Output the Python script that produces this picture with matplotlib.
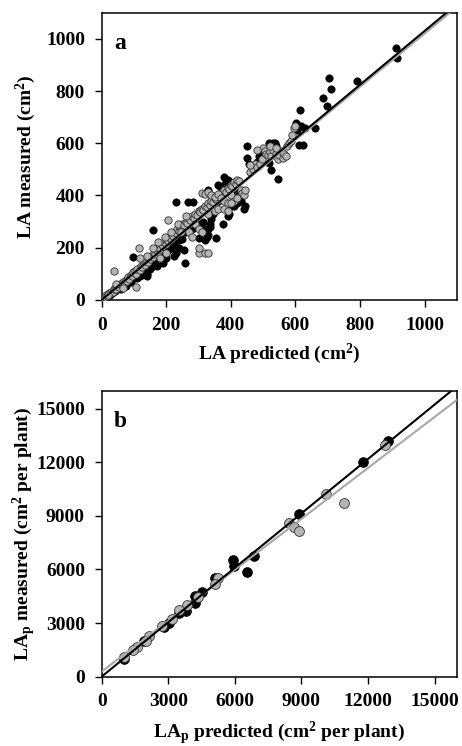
import numpy as np
import matplotlib
matplotlib.use('Agg')
import matplotlib.pyplot as plt

plt.rcParams['font.family'] = 'Liberation Serif'
plt.rcParams['font.weight'] = 'bold'
plt.rcParams['mathtext.fontset'] = 'custom'
plt.rcParams['mathtext.rm'] = 'Liberation Serif:bold'
plt.rcParams['mathtext.default'] = 'rm'

# ---- panel a: individual leaves (predicted, measured) ----
a_black = [
    (3, 2), (8, 6), (12, 10), (15, 14), (20, 16), (25, 20), (28, 25), (32, 28), (36, 30), (40, 33),
    (44, 38), (48, 40), (52, 45), (55, 48), (60, 52), (64, 55), (68, 60), (72, 62), (76, 68), (80, 70),
    (84, 75), (88, 78), (92, 82), (96, 85), (100, 90), (60, 40), (75, 55), (90, 70), (110, 85), (120, 95),
    (130, 100), (135, 110), (140, 90), (150, 120), (160, 130),
    (105, 100), (110, 115), (118, 120), (125, 110), (130, 130), (138, 125), (145, 140), (150, 150),
    (155, 145), (160, 160), (165, 150), (170, 175), (175, 160), (180, 185), (185, 170), (190, 195),
    (195, 180), (200, 205), (205, 190), (210, 215), (215, 200), (220, 225), (225, 210), (230, 240),
    (240, 230), (245, 250), (250, 235), (140, 100), (170, 130), (190, 140), (200, 160), (230, 180),
    (240, 200), (120, 90), (97, 166), (159, 269), (258, 141), (255, 190), (225, 170),
    (260, 260), (265, 280), (270, 300), (275, 290), (280, 270), (290, 300), (295, 320), (300, 290),
    (305, 330), (310, 280), (315, 300), (320, 260), (325, 240), (330, 270), (335, 290), (340, 310),
    (345, 330), (350, 350), (355, 370), (360, 380), (365, 390), (370, 400), (375, 420), (380, 440),
    (385, 460), (390, 450), (395, 430), (400, 420), (405, 410), (410, 390), (415, 380), (420, 370),
    (425, 400), (430, 380), (440, 350), (445, 360), (300, 237), (354, 237), (320, 230), (330, 250),
    (335, 280), (231, 375), (267, 375), (282, 375), (375, 290), (390, 320), (395, 330), (400, 360),
    (410, 360), (420, 430), (380, 470), (390, 460), (300, 340), (310, 350), (360, 440), (370, 430),
    (340, 400), (330, 420),
    (451, 588), (451, 543), (455, 520), (487, 550), (480, 530), (518, 525), (523, 499), (545, 464),
    (518, 599), (530, 600), (538, 599), (540, 590), (520, 580), (525, 560), (603, 678), (615, 729),
    (612, 595), (623, 592), (618, 665), (660, 659), (630, 660), (605, 650), (470, 510), (500, 560),
    (685, 775), (698, 744), (703, 850), (710, 808), (790, 839), (910, 963), (916, 927),
]
a_gray = [
    (5, 8), (10, 12), (15, 18), (18, 15), (22, 25), (26, 22), (30, 32), (35, 30), (38, 40), (42, 45),
    (46, 42), (50, 55), (54, 50), (58, 62), (62, 58), (66, 70), (70, 65), (74, 78), (78, 72), (82, 88),
    (86, 80), (90, 95), (94, 90), (98, 105), (38, 110), (105, 50), (20, 20), (45, 60), (65, 45),
    (102, 110), (106, 100), (110, 120), (115, 200), (118, 115), (122, 130), (126, 125), (130, 140),
    (134, 135), (138, 150), (142, 145), (146, 160), (150, 155), (154, 170), (158, 165), (162, 180),
    (166, 175), (170, 190), (174, 185), (178, 200), (182, 195), (186, 210), (190, 205), (194, 220),
    (198, 215), (202, 230), (206, 225), (210, 240), (214, 235), (218, 250), (222, 245), (226, 260),
    (230, 255), (234, 270), (238, 265), (242, 280), (246, 275), (250, 290), (205, 305), (180, 160),
    (200, 180), (120, 160), (140, 170), (160, 200), (175, 220), (195, 240), (215, 260), (235, 290),
    (245, 260),
    (255, 285), (260, 300), (265, 295), (270, 310), (275, 305), (280, 320), (285, 315), (290, 330),
    (295, 325), (300, 340), (305, 335), (310, 350), (315, 345), (320, 360), (325, 355), (330, 370),
    (335, 365), (340, 380), (345, 375), (350, 390), (355, 385), (360, 400), (365, 395), (370, 410),
    (375, 405), (380, 420), (385, 415), (390, 430), (395, 425), (400, 440), (405, 435), (410, 450),
    (415, 445), (420, 460), (425, 455), (430, 420), (435, 410), (440, 400), (445, 420), (300, 180),
    (320, 180), (330, 180), (310, 410), (320, 405), (330, 415), (340, 400), (350, 395), (360, 405),
    (370, 390), (380, 380), (390, 370), (400, 400), (410, 380), (420, 390), (290, 290), (300, 270),
    (310, 260), (260, 320), (270, 260), (280, 240), (330, 330), (350, 340), (360, 350), (380, 350),
    (390, 340), (400, 370), (300, 200),
    (460, 490), (470, 500), (475, 520), (480, 510), (490, 520), (495, 540), (500, 580), (505, 570),
    (510, 560), (515, 555), (520, 565), (525, 550), (530, 575), (540, 560), (545, 540), (550, 555),
    (555, 570), (560, 545), (565, 560), (570, 550), (575, 590), (580, 600), (585, 610), (590, 630),
    (595, 660), (598, 665), (480, 575), (520, 590), (540, 580), (460, 515),
]
# regression lines (slope, intercept)
a_fit_black = (1.03, 0)
a_fit_gray = (1.02, 0)

# ---- panel b: whole plants ----
b_black = [
    (1000, 1000), (12900, 13200), (11750, 12000), (8900, 9100), (5900, 6550), (5950, 6200),
    (6550, 5850), (6850, 6750), (5100, 5550), (4500, 4750), (4200, 4500), (4200, 4150),
    (3800, 3650), (3500, 3550), (3050, 3000), (2800, 2800), (1900, 2000),
]
b_gray = [
    (12750, 12950), (10100, 10250), (10900, 9750), (8450, 8600), (8650, 8400), (8900, 8150),
    (5250, 5500), (5100, 5200), (4350, 4450), (3850, 4000), (3500, 3750), (3150, 3250),
    (2700, 2850), (2150, 2250), (2000, 2000), (1600, 1650), (1400, 1500), (1000, 1100),
]
b_fit_black = (1.016, 0)
b_fit_gray = (0.951, 280)

fig = plt.figure(figsize=(4.62, 7.46), dpi=100)
ax1 = fig.add_axes([0.220, 0.598, 0.769, 0.385])
ax2 = fig.add_axes([0.220, 0.093, 0.769, 0.383])


def draw_panel(ax, black, gray, fit_k, fit_g, lim, ticks, size, letter):
    bx, by = zip(*black)
    gx, gy = zip(*gray)
    ax.scatter(bx, by, s=size, c='black', edgecolors='black', linewidths=0.5, zorder=2)
    ax.scatter(gx, gy, s=size, c='#b5b5b5', edgecolors='#303030', linewidths=0.6, zorder=3)
    xs = np.array([0, lim])
    ax.plot(xs, fit_g[0] * xs + fit_g[1], color='#a8a8a8', lw=1.5, zorder=4)
    ax.plot(xs, fit_k[0] * xs + fit_k[1], color='black', lw=1.5, zorder=5)
    ax.set_xlim(0, lim)
    ax.set_ylim(0, lim)
    ax.set_xticks(ticks)
    ax.set_yticks(ticks)
    ax.tick_params(direction='out', length=5, width=1, pad=7, labelsize=14, top=False, right=False)
    for sp in ax.spines.values():
        sp.set_linewidth(1.1)
    ax.text(0.035, 0.93, letter, transform=ax.transAxes, fontsize=17, fontweight='bold',
            va='top', ha='left')


draw_panel(ax1, a_black, a_gray, a_fit_black, a_fit_gray, 1100,
           [0, 200, 400, 600, 800, 1000], 28, 'a')
draw_panel(ax2, b_black, b_gray, b_fit_black, b_fit_gray, 16000,
           [0, 3000, 6000, 9000, 12000, 15000], 50, 'b')

ax1.set_xlabel('LA predicted (cm$^{2}$)', fontsize=14, fontweight='bold', labelpad=6)
ax1.set_ylabel('LA measured (cm$^{2}$)', fontsize=14, fontweight='bold')
ax2.set_xlabel('LA$_{p}$ predicted (cm$^{2}$ per plant)', fontsize=14, fontweight='bold', labelpad=7)
ax2.set_ylabel('LA$_{p}$ measured (cm$^{2}$ per plant)', fontsize=14, fontweight='bold')
ax1.yaxis.set_label_coords(-0.18, 0.5)
ax2.yaxis.set_label_coords(-0.18, 0.5)

fig.savefig('out.png', dpi=100)
